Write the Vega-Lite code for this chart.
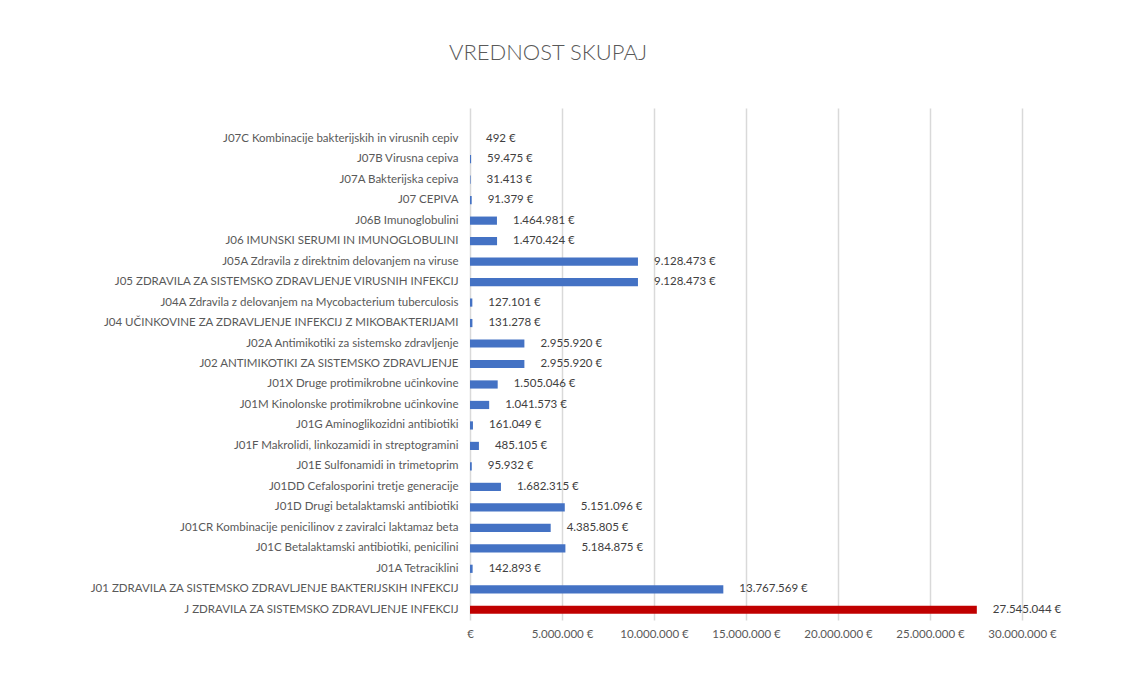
{
  "$schema": "https://vega.github.io/schema/vega-lite/v6.json",
  "autosize": "none",
  "width": 552,
  "height": 512,
  "padding": {"left": 470, "top": 108, "right": 104, "bottom": 68},
  "background": "white",
  "title": {
    "text": "VREDNOST SKUPAJ",
    "anchor": "middle",
    "dx": -198,
    "offset": 43,
    "font": "Lato",
    "fontWeight": 300,
    "fontSize": 22,
    "color": "#595959"
  },
  "config": {
    "locale": {"number": {"decimal": ",", "thousands": ".", "grouping": [3], "currency": ["", " €"]}},
    "view": {"stroke": null},
    "font": "Lato"
  },
  "data": {
    "values": [
      {"category": "J07C Kombinacije bakterijskih in virusnih cepiv", "value": 492},
      {"category": "J07B Virusna cepiva", "value": 59475},
      {"category": "J07A Bakterijska cepiva", "value": 31413},
      {"category": "J07 CEPIVA", "value": 91379},
      {"category": "J06B Imunoglobulini", "value": 1464981},
      {"category": "J06 IMUNSKI SERUMI IN IMUNOGLOBULINI", "value": 1470424},
      {"category": "J05A Zdravila z direktnim delovanjem na viruse", "value": 9128473},
      {"category": "J05 ZDRAVILA ZA SISTEMSKO ZDRAVLJENJE VIRUSNIH INFEKCIJ", "value": 9128473},
      {"category": "J04A Zdravila z delovanjem na Mycobacterium tuberculosis", "value": 127101},
      {"category": "J04 UČINKOVINE ZA ZDRAVLJENJE INFEKCIJ Z MIKOBAKTERIJAMI", "value": 131278},
      {"category": "J02A Antimikotiki za sistemsko zdravljenje", "value": 2955920},
      {"category": "J02 ANTIMIKOTIKI ZA SISTEMSKO ZDRAVLJENJE", "value": 2955920},
      {"category": "J01X Druge protimikrobne učinkovine", "value": 1505046},
      {"category": "J01M Kinolonske protimikrobne učinkovine", "value": 1041573},
      {"category": "J01G Aminoglikozidni antibiotiki", "value": 161049},
      {"category": "J01F Makrolidi, linkozamidi in streptogramini", "value": 485105},
      {"category": "J01E Sulfonamidi in trimetoprim", "value": 95932},
      {"category": "J01DD Cefalosporini tretje generacije", "value": 1682315},
      {"category": "J01D Drugi betalaktamski antibiotiki", "value": 5151096},
      {"category": "J01CR Kombinacije penicilinov z zaviralci laktamaz beta", "value": 4385805},
      {"category": "J01C Betalaktamski antibiotiki, penicilini", "value": 5184875},
      {"category": "J01A Tetraciklini", "value": 142893},
      {"category": "J01 ZDRAVILA ZA SISTEMSKO ZDRAVLJENJE BAKTERIJSKIH INFEKCIJ", "value": 13767569},
      {"category": "J ZDRAVILA ZA SISTEMSKO ZDRAVLJENJE INFEKCIJ", "value": 27545044}
    ]
  },
  "encoding": {
    "y": {
      "field": "category",
      "type": "nominal",
      "sort": null,
      "scale": {
        "domain": [" ",
          "J07C Kombinacije bakterijskih in virusnih cepiv",
          "J07B Virusna cepiva",
          "J07A Bakterijska cepiva",
          "J07 CEPIVA",
          "J06B Imunoglobulini",
          "J06 IMUNSKI SERUMI IN IMUNOGLOBULINI",
          "J05A Zdravila z direktnim delovanjem na viruse",
          "J05 ZDRAVILA ZA SISTEMSKO ZDRAVLJENJE VIRUSNIH INFEKCIJ",
          "J04A Zdravila z delovanjem na Mycobacterium tuberculosis",
          "J04 UČINKOVINE ZA ZDRAVLJENJE INFEKCIJ Z MIKOBAKTERIJAMI",
          "J02A Antimikotiki za sistemsko zdravljenje",
          "J02 ANTIMIKOTIKI ZA SISTEMSKO ZDRAVLJENJE",
          "J01X Druge protimikrobne učinkovine",
          "J01M Kinolonske protimikrobne učinkovine",
          "J01G Aminoglikozidni antibiotiki",
          "J01F Makrolidi, linkozamidi in streptogramini",
          "J01E Sulfonamidi in trimetoprim",
          "J01DD Cefalosporini tretje generacije",
          "J01D Drugi betalaktamski antibiotiki",
          "J01CR Kombinacije penicilinov z zaviralci laktamaz beta",
          "J01C Betalaktamski antibiotiki, penicilini",
          "J01A Tetraciklini",
          "J01 ZDRAVILA ZA SISTEMSKO ZDRAVLJENJE BAKTERIJSKIH INFEKCIJ",
          "J ZDRAVILA ZA SISTEMSKO ZDRAVLJENJE INFEKCIJ"
        ],
        "paddingInner": 0,
        "paddingOuter": 0
      },
      "axis": {
        "title": null,
        "domain": false,
        "ticks": false,
        "grid": false,
        "labelLimit": 500,
        "labelPadding": 12,
        "labelFontSize": 11.5,
        "labelColor": "#595959"
      }
    },
    "x": {
      "field": "value",
      "type": "quantitative",
      "scale": {"domain": [0, 30000000], "nice": false},
      "axis": {
        "title": null,
        "values": [0, 5000000, 10000000, 15000000, 20000000, 25000000, 30000000],
        "format": "$,.0f",
        "labelExpr": "datum.value === 0 ? '€' : datum.label",
        "labelOverlap": false,
        "labelFlush": false,
        "domain": false,
        "ticks": false,
        "grid": true,
        "gridColor": "#D9D9D9",
        "gridWidth": 1.5,
        "labelPadding": 8,
        "labelFontSize": 11.5,
        "labelColor": "#595959"
      }
    }
  },
  "layer": [
    {
      "mark": {"type": "bar", "height": {"band": 0.4}},
      "encoding": {
        "color": {
          "condition": {"test": "datum.category === 'J ZDRAVILA ZA SISTEMSKO ZDRAVLJENJE INFEKCIJ'", "value": "#C00000"},
          "value": "#4472C4"
        }
      }
    },
    {
      "mark": {"type": "text", "align": "left", "baseline": "middle", "dx": 16, "fontSize": 11.5, "color": "#404040"},
      "encoding": {
        "text": {"field": "value", "type": "quantitative", "format": "$,.0f"}
      }
    }
  ]
}
